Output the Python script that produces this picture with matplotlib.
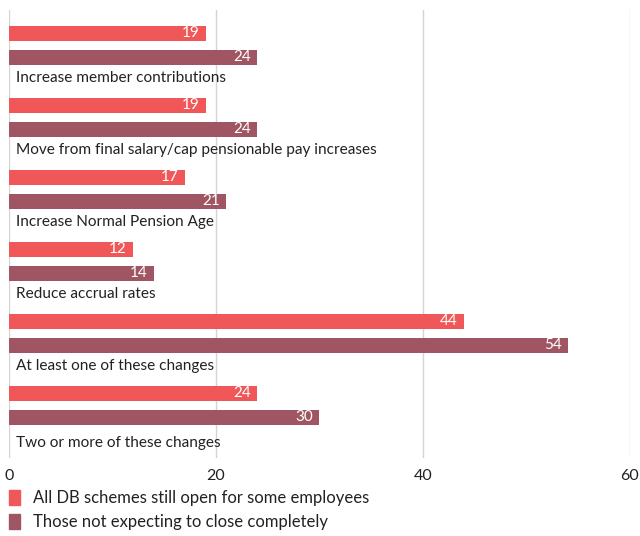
import matplotlib.pyplot as plt
import numpy as np

plt.rcParams['font.family'] = ['Lato', 'DejaVu Sans']

# data
categories = [
    "Increase member contributions",
    "Move from final salary/cap pensionable pay increases",
    "Increase Normal Pension Age",
    "Reduce accrual rates",
    "At least one of these changes",
    "Two or more of these changes",
]
open_schemes = [19, 19, 17, 12, 44, 24]
not_closing = [24, 24, 21, 14, 54, 30]
series_names = ["All DB schemes still open for some employees",
                "Those not expecting to close completely"]
xticks = [0, 20, 40, 60]

c1 = '#EF5759'
c2 = '#A05562'

fig = plt.figure(figsize=(6.4, 5.36), dpi=100)
ax = fig.add_axes([0.014, 0.1455, 0.970, 0.836])

y = np.arange(len(categories)) * 3.0
ax.barh(y, open_schemes, height=0.66, color=c1, zorder=2)
ax.barh(y + 1, not_closing, height=0.66, color=c2, zorder=2)

# value labels inside bar ends
for yy, v in zip(y, open_schemes):
    ax.text(v - 0.6, yy, str(v), color='white', ha='right', va='center', fontsize=11, zorder=3)
for yy, v in zip(y + 1, not_closing):
    ax.text(v - 0.6, yy, str(v), color='white', ha='right', va='center', fontsize=11, zorder=3)

# category labels under each pair
for i, (yy, cat) in enumerate(zip(y, categories)):
    off = 1.85 if i < len(categories) - 1 else 2.05
    ax.text(0.7, yy + off, cat, ha='left', va='center', fontsize=11.1, color='#222222')

ax.set_xlim(0, 60)
ax.set_ylim(17.69, -0.98)
ax.set_xticks(xticks)
ax.set_yticks([])
ax.tick_params(axis='x', length=0, labelsize=11.5, labelcolor='#222222', pad=8)
ax.grid(axis='x', color='#d4d4d4', linewidth=1, zorder=0)
for s in ax.spines.values():
    s.set_visible(False)

# legend drawn by hand as squares + text
fig.patches.append(plt.Rectangle((9 / 640, 1 - 505 / 536), 11 / 640, 15 / 536,
                                 transform=fig.transFigure, color=c1))
fig.patches.append(plt.Rectangle((9 / 640, 1 - 529 / 536), 11 / 640, 15 / 536,
                                 transform=fig.transFigure, color=c2))
fig.text(33 / 640, 1 - 498 / 536, series_names[0], va='center', fontsize=12, color='#222222')
fig.text(33 / 640, 1 - 522 / 536, series_names[1], va='center', fontsize=12, color='#222222')

fig.savefig('out.png', dpi=100)
